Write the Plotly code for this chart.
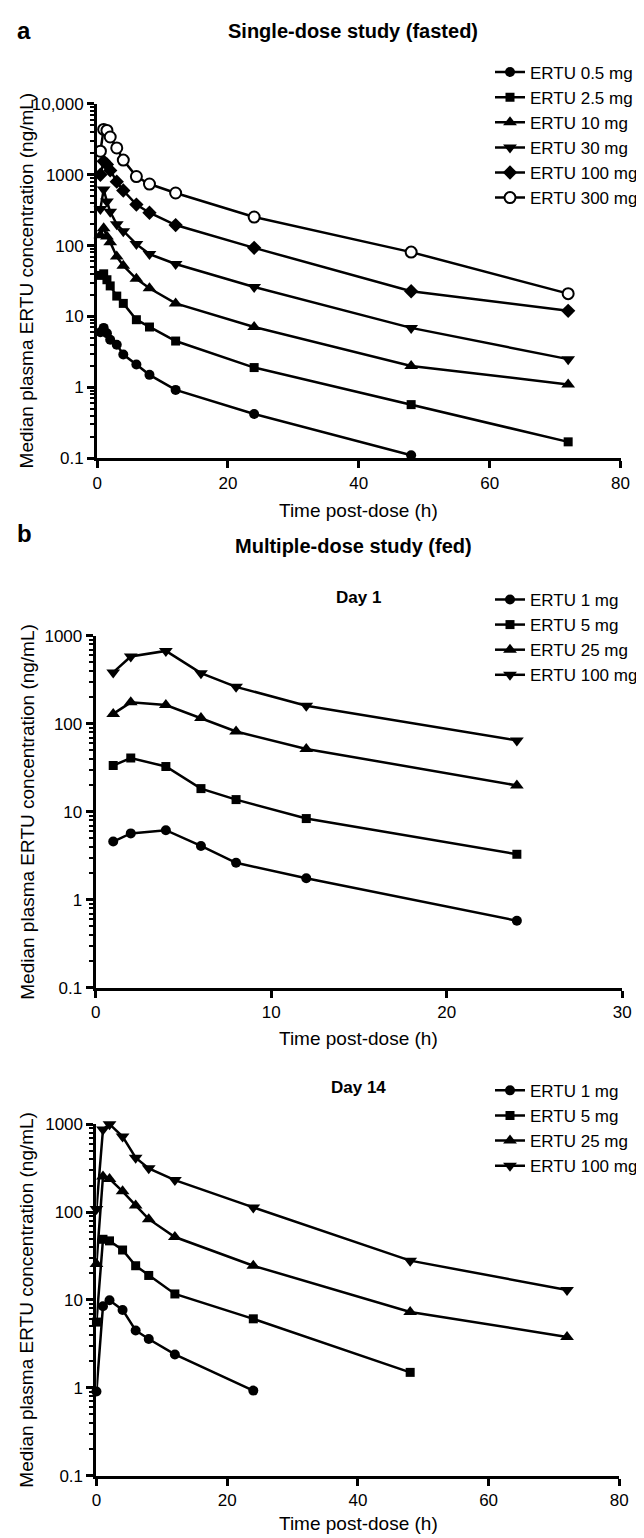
import plotly.graph_objects as go

# ---------------- data ----------------
# Panel a: single-dose study (fasted)
t_single = [0.5, 1, 1.5, 2, 3, 4, 6, 8, 12, 24, 48, 72]
sd_labels = ["ERTU 0.5 mg", "ERTU 2.5 mg", "ERTU 10 mg", "ERTU 30 mg", "ERTU 100 mg", "ERTU 300 mg"]
sd_0_5 = [6.0, 6.9, 5.8, 4.7, 4.0, 2.9, 2.1, 1.5, 0.92, 0.42, 0.11]
sd_2_5 = [38, 40, 33, 27, 19.4, 15.3, 9.0, 7.1, 4.5, 1.9, 0.57, 0.17]
sd_10 = [140, 176, 135, 112, 70, 52, 34, 25, 15.3, 7.1, 2.0, 1.1]
sd_30 = [330, 620, 420, 300, 200, 160, 105, 76, 55, 26, 6.9, 2.5]
sd_100 = [1000, 1550, 1400, 1150, 800, 600, 380, 291, 195, 93, 22.7, 12]
sd_300 = [2150, 4370, 4230, 3410, 2390, 1610, 944, 740, 553, 253, 81, 21]

# Panel b: multiple-dose study (fed)
md_labels = ["ERTU 1 mg", "ERTU 5 mg", "ERTU 25 mg", "ERTU 100 mg"]
t_day1 = [1, 2, 4, 6, 8, 12, 24]
d1_1 = [4.6, 5.7, 6.2, 4.1, 2.64, 1.76, 0.58]
d1_5 = [33.7, 41, 32.8, 18.4, 13.8, 8.4, 3.3]
d1_25 = [130, 176, 164, 117, 82, 52, 20]
d1_100 = [385, 584, 676, 378, 264, 161, 65]

t_day14 = [0, 1, 2, 4, 6, 8, 12, 24, 48, 72]
d14_1 = [0.91, 8.5, 9.9, 7.7, 4.5, 3.6, 2.4, 0.93]
d14_5 = [5.6, 49, 47, 37, 24.5, 19, 11.7, 6.1, 1.5]
d14_25 = [25.7, 254, 238, 172, 119, 83, 52, 24.5, 7.3, 3.8]
d14_100 = [108, 870, 1000, 723, 415, 314, 231, 113, 28, 13]

log_tickvals_a = [0.1, 1, 10, 100, 1000, 10000]
log_ticktext_a = ["0.1", "1", "10", "100", "1000", "10,000"]
log_tickvals_b = [0.1, 1, 10, 100, 1000]
log_ticktext_b = ["0.1", "1", "10", "100", "1000"]

# ---------------- styling ----------------
W, H = 644, 1538
FONT = "Liberation Sans, Arial, Helvetica, sans-serif"


def px_x(p):
    return p / W


def px_y(p):
    return 1 - p / H


sd_symbols = ["circle", "square", "triangle-up", "triangle-down", "diamond", "circle"]
sd_sizes = [10, 9, 12, 12, 11, 11]
md_symbols = ["circle", "square", "triangle-up", "triangle-down"]
md_sizes = [10, 9, 12, 12]

fig = go.Figure()

sd_series = [sd_0_5, sd_2_5, sd_10, sd_30, sd_100, sd_300]
for i, (lab, vals) in enumerate(zip(sd_labels, sd_series)):
    open_marker = (i == 5)
    fig.add_trace(go.Scatter(
        x=t_single[:len(vals)], y=vals, name=lab, mode="lines+markers",
        line=dict(color="black", width=2.5),
        marker=dict(symbol=sd_symbols[i], size=sd_sizes[i],
                    color="white" if open_marker else "black",
                    line=dict(color="black", width=2 if open_marker else 0)),
        xaxis="x", yaxis="y", legend="legend", legendgroup=f"a{i}", cliponaxis=False,
    ))

d1_series = [d1_1, d1_5, d1_25, d1_100]
for i, (lab, vals) in enumerate(zip(md_labels, d1_series)):
    fig.add_trace(go.Scatter(
        x=t_day1[:len(vals)], y=vals, name=lab, mode="lines+markers",
        line=dict(color="black", width=2.5),
        marker=dict(symbol=md_symbols[i], size=md_sizes[i], color="black"),
        xaxis="x2", yaxis="y2", legend="legend2", legendgroup=f"b{i}", cliponaxis=False,
    ))

d14_series = [d14_1, d14_5, d14_25, d14_100]
for i, (lab, vals) in enumerate(zip(md_labels, d14_series)):
    fig.add_trace(go.Scatter(
        x=t_day14[:len(vals)], y=vals, name=lab, mode="lines+markers",
        line=dict(color="black", width=2.5),
        marker=dict(symbol=md_symbols[i], size=md_sizes[i], color="black"),
        xaxis="x3", yaxis="y3", legend="legend3", legendgroup=f"c{i}", cliponaxis=False,
    ))

minor_vals = [k * 10 ** e for e in range(-1, 4) for k in range(2, 10)]


def xax(domain, rng, dtick, anchor):
    return dict(domain=domain, range=rng, tickmode="linear", tick0=0, dtick=dtick,
                showline=True, linecolor="black", linewidth=3, ticks="outside",
                ticklen=7, tickwidth=3, tickcolor="black", showgrid=False, zeroline=False,
                tickfont=dict(family=FONT, size=17, color="black"), anchor=anchor)


def yax(domain, rng, tv, tt, anchor):
    return dict(domain=domain, type="log", range=rng, tickmode="array", tickvals=tv, ticktext=tt,
                showline=True, linecolor="black", linewidth=3, ticks="outside",
                ticklen=7, tickwidth=3, tickcolor="black", showgrid=False, zeroline=False,
                minor=dict(tickmode="array", tickvals=[v for v in minor_vals if 10 ** rng[0] < v < 10 ** rng[1]],
                           ticks="outside", ticklen=4, tickwidth=2, tickcolor="black", showgrid=False),
                tickfont=dict(family=FONT, size=17, color="black"), anchor=anchor)


# pixel geometry of the three plot areas
a_x = [px_x(86), px_x(621)]
a_y = [px_y(446.7), px_y(88)]
b1_x = [px_x(84.5), px_x(622.7)]
b1_y = [px_y(983), px_y(626.7)]
b2_x = [px_x(85.3), px_x(619.8)]
b2_y = [px_y(1477), px_y(1121)]

legend_common = dict(xanchor="right", yanchor="top", bgcolor="rgba(0,0,0,0)",
                     font=dict(family=FONT, size=17, color="black"), itemwidth=30,
                     tracegroupgap=4, traceorder="normal")

fig.update_layout(
    width=W, height=H, margin=dict(l=0, r=0, t=0, b=0),
    paper_bgcolor="white", plot_bgcolor="white",
    font=dict(family=FONT, color="black"),
    xaxis=xax(a_x, [0, 80], 20, "y"),
    yaxis=yax(a_y, [-1, 4], log_tickvals_a, log_ticktext_a, "x"),
    xaxis2=xax(b1_x, [0, 30], 10, "y2"),
    yaxis2=yax(b1_y, [-1, 3], log_tickvals_b, log_ticktext_b, "x2"),
    xaxis3=xax(b2_x, [0, 80], 20, "y3"),
    yaxis3=yax(b2_y, [-1, 3], log_tickvals_b, log_ticktext_b, "x3"),
    legend=dict(x=1, y=px_y(38), **legend_common),
    legend2=dict(x=1, y=px_y(572), **legend_common),
    legend3=dict(x=1, y=px_y(1069), **legend_common),
)

ann = []


def text(x, y, s, size, bold=False, angle=0, xanchor="center"):
    ann.append(dict(x=px_x(x), y=px_y(y), xref="paper", yref="paper", text=f"<b>{s}</b>" if bold else s,
                    showarrow=False, textangle=angle, xanchor=xanchor, yanchor="middle",
                    font=dict(family=FONT, size=size, color="black")))


text(2, 14, "a", 24, bold=True, xanchor="left")
text(348, 14, "Single-dose study (fasted)", 20, bold=True)
text(14, 267, "Median plasma ERTU concentration (ng/mL)", 19, angle=-90)
text(353, 500, "Time post-dose (h)", 19)

text(2, 523, "b", 24, bold=True, xanchor="left")
text(348, 536, "Multiple-dose study (fed)", 20, bold=True)
text(353, 588, "Day 1", 17, bold=True)
text(14, 805, "Median plasma ERTU concentration (ng/mL)", 19, angle=-90)
text(353, 1034, "Time post-dose (h)", 19)

text(353, 1084, "Day 14", 17, bold=True)
text(14, 1299, "Median plasma ERTU concentration (ng/mL)", 19, angle=-90)
text(353, 1525, "Time post-dose (h)", 19)

fig.update_layout(annotations=ann)

fig.write_html("out.html")
